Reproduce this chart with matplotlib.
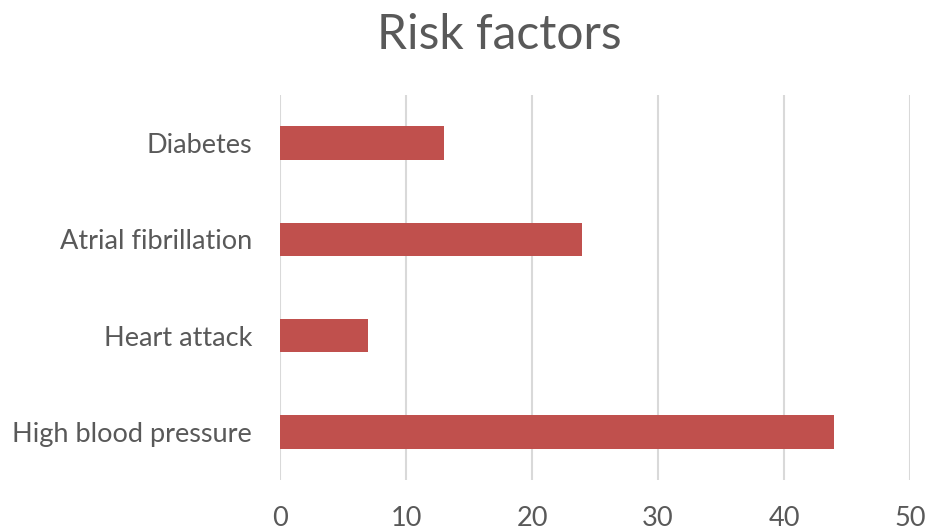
import matplotlib.pyplot as plt

# categories listed bottom to top
categorias = ["High blood pressure", "Heart attack", "Atrial fibrillation", "Diabetes"]
valores = [44, 7, 24, 13]
ticks_x = [0, 10, 20, 30, 40, 50]

color_barra = "#C0504D"
color_texto = "#595959"
color_grilla = "#D9D9D9"

plt.rcParams['font.family'] = ['Lato', 'DejaVu Sans']

fig = plt.figure(figsize=(9.3, 5.32), dpi=100)
ax = fig.add_axes([280 / 930, 1 - 480 / 532, 630 / 930, 385 / 532])

ax.barh(range(len(categorias)), valores, height=0.35, color=color_barra, zorder=3)

ax.set_xlim(0, 50)
ax.set_ylim(-0.5, len(categorias) - 0.5)
ax.set_xticks(ticks_x)
ax.set_yticks(range(len(categorias)))
ax.set_yticklabels(categorias)
ax.tick_params(axis='both', length=0, colors=color_texto, labelsize=19.5)
ax.tick_params(axis='x', pad=19)
ax.tick_params(axis='y', pad=20)

ax.grid(axis='x', color=color_grilla, linewidth=1.5, zorder=0)
for s in ax.spines.values():
    s.set_visible(False)

fig.text(499 / 930, 1 - 35 / 532, "Risk factors", ha='center', va='center',
         fontsize=34.5, color=color_texto)

fig.savefig("out.png", dpi=100)
